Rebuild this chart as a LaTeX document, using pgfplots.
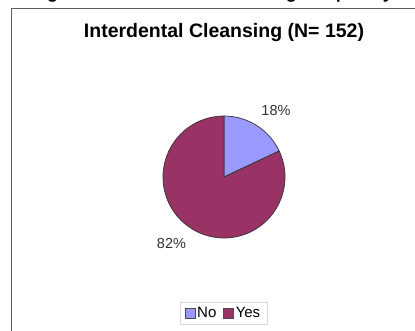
\documentclass[border=0pt]{standalone}
\usepackage{pgfplots}
\pgfplotsset{compat=1.18}
\usepackage{fontspec}
\setmainfont{Liberation Sans}
\definecolor{noc}{HTML}{9999FF}
\definecolor{yesc}{HTML}{993366}
\definecolor{framec}{RGB}{95,95,95}
\begin{document}
\begin{tikzpicture}
\useasboundingbox (0pt,0pt) rectangle (415pt,330pt);
\clip (0pt,0pt) rectangle (415pt,330pt);
% data (percent)
\def\vNo{18}
\def\vYes{82}
\pgfmathsetmacro{\aStart}{90}
\pgfmathsetmacro{\aNo}{90-3.6*\vNo}
\pgfmathsetmacro{\aYes}{\aNo-3.6*\vYes}
\begin{axis}[
  x=1pt, y=1pt,
  xmin=0, xmax=415, ymin=0, ymax=330,
  hide axis, clip=false,
  legend columns=2,
  legend style={at={(axis cs:223.5,17)}, anchor=center, draw=black!15,
    font=\fontsize{15}{17}\selectfont, inner xsep=5pt, inner ysep=3pt,
    /tikz/every even column/.append style={column sep=5pt}},
  legend image code/.code={\draw[#1] (0pt,-5pt) rectangle (10pt,5pt);},
]
\addlegendimage{fill=noc, draw=black!70}
\addlegendentry{No}
\addlegendimage{fill=yesc, draw=black!70}
\addlegendentry{Yes}
\addplot[forget plot, fill=noc, draw=black!80, line width=0.7pt] coordinates {(224,153)}
  -- ++(\aStart:61pt) arc[start angle=\aStart, end angle=\aNo, radius=61pt] -- cycle;
\addplot[forget plot, fill=yesc, draw=black!80, line width=0.7pt] coordinates {(224,153)}
  -- ++(\aNo:61pt) arc[start angle=\aNo, end angle=\aYes, radius=61pt] -- cycle;
\node[font=\fontsize{14.5}{16}\selectfont, text=black!80] at (axis cs:276,219.5) {\vNo\%};
\node[font=\fontsize{14.5}{16}\selectfont, text=black!80] at (axis cs:171.5,86.5) {\vYes\%};
\node[font=\bfseries\fontsize{19.5}{22}\selectfont] at (axis cs:224,297.5) {Interdental Cleansing (N= 152)};
\end{axis}
\draw[framec, line width=1.6pt] (11.5pt,-5pt) -- (11.5pt,321.5pt) -- (425pt,321.5pt);
\node[font=\bfseries\fontsize{18}{20}\selectfont, anchor=base] at (212pt,331.5pt) {Figure 3: Interdental Cleansing Frequency};
\end{tikzpicture}
\end{document}
